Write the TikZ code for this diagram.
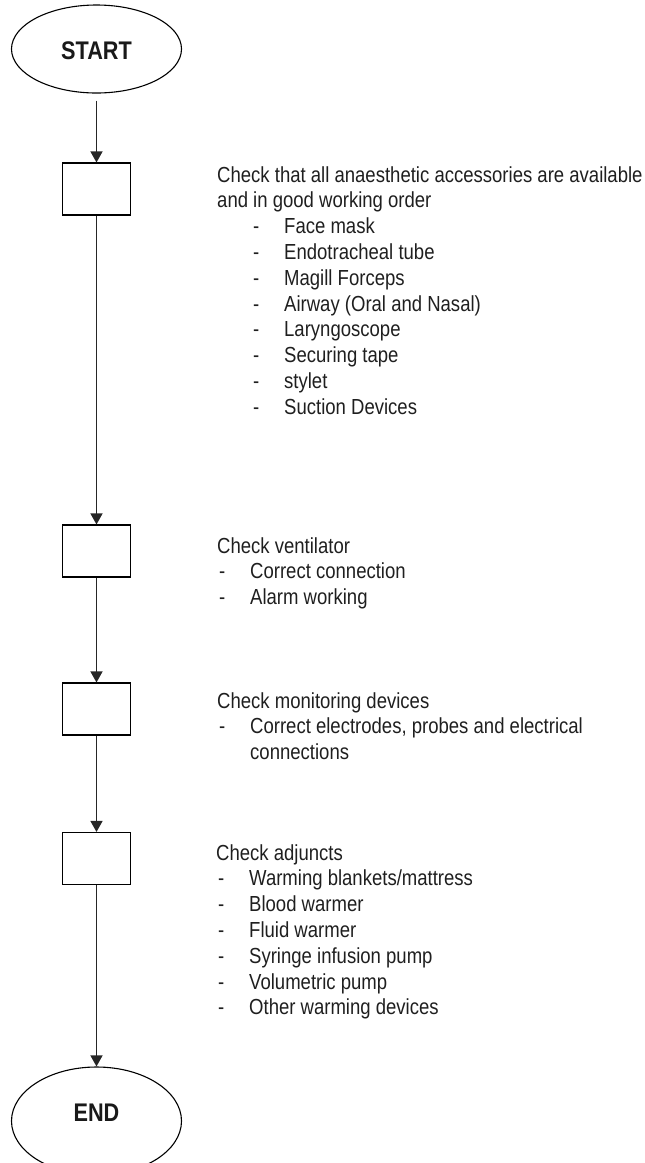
\documentclass[tikz,border=0pt]{standalone}
\usepackage{fontspec}
\setmainfont{Liberation Sans}[FakeStretch=0.85]
\usetikzlibrary{shapes.geometric,arrows.meta}
% dash marker of a checklist entry
\newcommand\listdash{\makebox[31pt][l]{-}}
\begin{document}
\begin{tikzpicture}[x=1pt,y=-1pt,
  terminal/.style={ellipse,draw=black,line width=1.1pt,minimum width=170pt,minimum height=88pt,inner sep=0pt},
  termtext/.style={font=\bfseries\fontsize{25.5}{28}\selectfont,text=black!90,inner sep=0pt},
  stepbox/.style={rectangle,draw=black,line width=1.1pt,minimum width=68pt,minimum height=52pt,inner sep=0pt},
  flow/.style={draw=black!85,line width=1.3pt,-{Triangle[width=12pt,length=11pt]}},
  note/.style={anchor=base west,align=left,inner sep=0pt,text=black!88,font=\fontsize{21.8}{25.8}\selectfont}]
\clip (0,0) rectangle (645,1163);

% terminals
\node[terminal] (start) at (96.5,49) {};
\node[termtext] (starttext) at (96.5,51) {START};
\node[terminal,minimum height=108pt] (end) at (96.5,1121) {};
\node[termtext] (endtext) at (96.5,1113) {END};

% process boxes
\node[stepbox] (b1) at (96.5,189) {};
\node[stepbox] (b2) at (96.5,551) {};
\node[stepbox] (b3) at (96.5,709) {};
\node[stepbox] (b4) at (96.5,858.5) {};

% connectors
\draw[flow,shorten <=7pt] (start.south) -- (b1.north);
\draw[flow] (b1.south) -- (b2.north);
\draw[flow] (b2.south) -- (b3.north);
\draw[flow] (b3.south) -- (b4.north);
\draw[flow] (b4.south) -- (end.north);

% checklists (each placed at the baseline of its last line)
\node[note] (t1) at (217,414.2) {Check that all anaesthetic accessories are available\\
and in good working order\\
\hspace*{36pt}\listdash Face mask\\
\hspace*{36pt}\listdash Endotracheal tube\\
\hspace*{36pt}\listdash Magill Forceps\\
\hspace*{36pt}\listdash Airway (Oral and Nasal)\\
\hspace*{36pt}\listdash Laryngoscope\\
\hspace*{36pt}\listdash Securing tape\\
\hspace*{36pt}\listdash stylet\\
\hspace*{36pt}\listdash Suction Devices};

\node[note] (t2) at (217,604.6) {Check ventilator\\
\hspace*{2pt}\listdash Correct connection\\
\hspace*{2pt}\listdash Alarm working};

\node[note] (t3) at (217,759.6) {Check monitoring devices\\
\hspace*{2pt}\listdash Correct electrodes, probes and electrical\\
\hspace*{2pt}\makebox[31pt][l]{}connections};

\node[note] (t4) at (216,1014.8) {Check adjuncts\\
\hspace*{2pt}\listdash Warming blankets/mattress\\
\hspace*{2pt}\listdash Blood warmer\\
\hspace*{2pt}\listdash Fluid warmer\\
\hspace*{2pt}\listdash Syringe infusion pump\\
\hspace*{2pt}\listdash Volumetric pump\\
\hspace*{2pt}\listdash Other warming devices};
\end{tikzpicture}
\end{document}
